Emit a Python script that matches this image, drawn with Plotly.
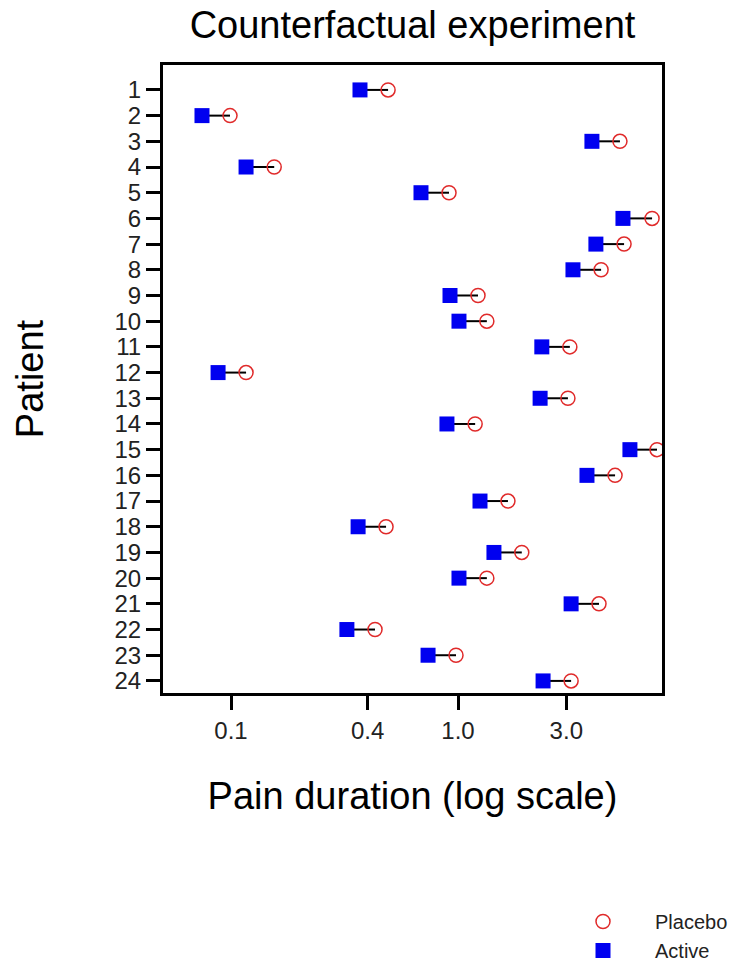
import plotly.graph_objects as go

patients = list(range(1, 25))
active = [0.370, 0.0745, 3.89, 0.1165, 0.687, 5.33, 4.05, 3.21, 0.922, 1.01,
          2.34, 0.0877, 2.30, 0.894, 5.72, 3.70, 1.25, 0.363, 1.44, 1.01,
          3.15, 0.324, 0.738, 2.37]
placebo = [0.492, 0.099, 5.17, 0.155, 0.913, 7.16, 5.39, 4.27, 1.225, 1.34,
           3.11, 0.1165, 3.05, 1.19, 7.53, 4.92, 1.66, 0.482, 1.91, 1.34,
           4.18, 0.431, 0.98, 3.15]
x_tickvals = [0.1, 0.4, 1.0, 3.0]
x_ticktext = ["0.1", "0.4", "1.0", "3.0"]

FONT = "Liberation Sans, Arial, sans-serif"

seg_x, seg_y = [], []
for p, a, b in zip(patients, active, placebo):
    seg_x += [a, b, None]
    seg_y += [p, p, None]

fig = go.Figure()
fig.add_trace(go.Scatter(x=seg_x, y=seg_y, mode="lines",
                         line=dict(color="black", width=2),
                         showlegend=False, hoverinfo="skip"))
fig.add_trace(go.Scatter(x=placebo, y=patients, mode="markers", name="Placebo",
                         marker=dict(symbol="circle-open", size=14,
                                     color="#e02a2a", line=dict(width=1.5, color="#e02a2a"))))
fig.add_trace(go.Scatter(x=active, y=patients, mode="markers", name="Active",
                         marker=dict(symbol="square", size=15, color="#0000f0",
                                     line=dict(width=0))))

fig.update_layout(
    width=753, height=963,
    margin=dict(l=163, r=91, t=65, b=270, autoexpand=False),
    paper_bgcolor="white", plot_bgcolor="white",
    font=dict(family=FONT, color="black"),
    title=dict(text="Counterfactual experiment", x=(163 + 662) / 2 / 753, xanchor="center",
               y=1 - 25 / 963, yanchor="middle", yref="container",
               font=dict(size=38, color="black")),
    xaxis=dict(type="log", range=[-1.2996, 0.8987],
               tickvals=x_tickvals, ticktext=x_ticktext,
               ticks="outside", ticklen=14, tickwidth=3, tickcolor="black",
               tickfont=dict(size=24, color="#222"),
               showline=True, linewidth=3, linecolor="black", mirror=True,
               showgrid=False, zeroline=False,
               title=dict(text="Pain duration (log scale)", font=dict(size=38, color="black"),
                          standoff=40)),
    yaxis=dict(range=[24.47, 0.03], tickvals=patients,
               ticktext=[str(p) for p in patients],
               ticks="outside", ticklen=14, tickwidth=3, tickcolor="black",
               tickfont=dict(size=24, color="#222"),
               showline=True, linewidth=3, linecolor="black", mirror=True,
               showgrid=False, zeroline=False,
               title=dict(text="Patient", font=dict(size=38, color="black"),
                          standoff=60)),
    legend=dict(x=(551 - 163) / 499, xanchor="left",
                y=-(902 - 693) / 628, yanchor="top",
                font=dict(size=20, color="#222"), itemwidth=94,
                bgcolor="rgba(0,0,0,0)", tracegroupgap=0),
)

fig.write_html("out.html")
